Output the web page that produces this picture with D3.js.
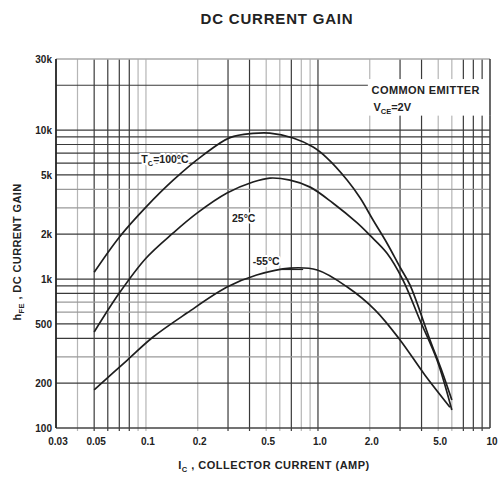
<!DOCTYPE html>
<html>
<head>
<meta charset="utf-8">
<script src="https://cdn.jsdelivr.net/npm/d3@7"></script>
<style>
  body { margin: 0; background: #fff; }
  text { font-family: "Liberation Sans", Arial, sans-serif; fill: #222; }
</style>
</head>
<body>
<svg id="chart" width="500" height="477"></svg>
<script>
/* DATA */
const xTicks = [0.03, 0.05, 0.1, 0.2, 0.5, 1, 2, 5, 10];
const xTickLabels = ["0.03", "0.05", "0.1", "0.2", "0.5", "1.0", "2.0", "5.0", "10"];
const yTicks = [100, 200, 500, 1000, 2000, 5000, 10000, 30000];
const yTickLabels = ["100", "200", "500", "1k", "2k", "5k", "10k", "30k"];

// grid lines (every minor step of the log paper)
const xGrid = [0.04, 0.05, 0.06, 0.07, 0.08, 0.09, 0.1, 0.2, 0.3, 0.4, 0.5, 0.6, 0.7, 0.8, 0.9, 1, 2, 3, 4, 5, 6, 7, 8, 9];
const xGridLight = [0.04, 0.09, 0.1, 0.2, 0.5, 0.6, 0.8, 0.9, 2, 5, 6];
const yGrid = [200, 300, 400, 500, 600, 700, 800, 900, 1000, 2000, 3000, 4000, 5000, 6000, 7000, 8000, 9000, 10000, 20000];
const yGridLight = [300, 600, 700, 3000, 4000];

// curves: Ic (A) vs hFE
const current100 = [0.05, 0.07, 0.1, 0.144, 0.215, 0.308, 0.419, 0.525, 0.717, 0.937, 1.13, 1.48, 1.76, 2.09, 2.52, 3.0, 3.43, 4.48, 5.3, 6.0];
const gain100 = [1110, 1910, 3040, 4610, 6790, 8900, 9500, 9550, 8840, 7690, 6490, 4610, 3500, 2490, 1740, 1200, 910, 390, 234, 154];
const current25 = [0.05, 0.07, 0.1, 0.144, 0.198, 0.296, 0.419, 0.525, 0.688, 0.9, 1.22, 1.69, 2.0, 2.52, 3.12, 3.91, 4.92, 6.0];
const gain25 = [441, 805, 1380, 2040, 2770, 3780, 4480, 4760, 4610, 4140, 3240, 2380, 1970, 1490, 984, 531, 286, 132];
const currentM55 = [0.05, 0.078, 0.11, 0.173, 0.296, 0.44, 0.688, 0.99, 1.48, 2.15, 3.0, 4.18, 5.85];
const gainM55 = [180, 286, 408, 591, 884, 1064, 1185, 1149, 884, 619, 390, 227, 138];

const curveNames = ["100", "25", "-55"];

/* SCALES */
const svg = d3.select("#chart");
const x = d3.scaleLog().domain([0.03, 10]).range([56, 490]);
const y = d3.scaleLog().domain([100, 30000]).range([428, 59]);

// grid
svg.append("g").selectAll("line")
  .data(xGrid)
  .join("line")
  .attr("x1", d => x(d)).attr("x2", d => x(d))
  .attr("y1", y(30000)).attr("y2", y(100) + 3)
  .attr("stroke", d => xGridLight.includes(d) ? "#b5b5b5" : "#3a3a3a")
  .attr("stroke-width", 1.2);

svg.append("g").selectAll("line")
  .data(yGrid)
  .join("line")
  .attr("x1", x(0.03)).attr("x2", x(10))
  .attr("y1", d => y(d)).attr("y2", d => y(d))
  .attr("stroke", d => yGridLight.includes(d) ? "#9a9a9a" : "#3a3a3a")
  .attr("stroke-width", 1.2);

// frame
svg.append("line").attr("x1", x(0.03)).attr("x2", x(10)).attr("y1", y(30000)).attr("y2", y(30000))
  .attr("stroke", "#aaa").attr("stroke-width", 1.5);
svg.append("line").attr("x1", x(0.03)).attr("x2", x(10)).attr("y1", y(100)).attr("y2", y(100))
  .attr("stroke", "#444").attr("stroke-width", 1.6);
svg.append("line").attr("x1", x(0.03)).attr("x2", x(0.03)).attr("y1", y(30000)).attr("y2", y(100))
  .attr("stroke", "#222").attr("stroke-width", 1.8);
svg.append("line").attr("x1", x(10)).attr("x2", x(10)).attr("y1", y(30000)).attr("y2", y(100))
  .attr("stroke", "#444").attr("stroke-width", 1.6);

// legend box (white patch over the grid)
svg.append("rect")
  .attr("x", x(1.95)).attr("y", y(22000))
  .attr("width", x(10) - x(1.95) + 2).attr("height", y(12500) - y(22000))
  .attr("fill", "#fff");
svg.append("line").attr("x1", x(10)).attr("x2", x(10)).attr("y1", y(22000)).attr("y2", y(12500))
  .attr("stroke", "#444").attr("stroke-width", 1.6);

svg.append("text")
  .attr("x", x(2.05)).attr("y", y(17500))
  .attr("font-size", 11).attr("font-weight", "bold")
  .attr("letter-spacing", 0.4)
  .text("COMMON EMITTER");
const vce = svg.append("text")
  .attr("x", x(2.1)).attr("y", y(13400))
  .attr("font-size", 11).attr("font-weight", "bold");
vce.append("tspan").text("V");
vce.append("tspan").attr("dy", 3).attr("font-size", 7.5).text("CE");
vce.append("tspan").attr("dy", -3).text("=2V");

/* CURVES */
const series = [
  { name: curveNames[0], xs: current100, ys: gain100 },
  { name: curveNames[1], xs: current25, ys: gain25 },
  { name: curveNames[2], xs: currentM55, ys: gainM55 }
];
const line = d3.line()
  .x(d => x(d[0]))
  .y(d => y(d[1]))
  .curve(d3.curveCatmullRom.alpha(0.5));

svg.append("g").selectAll("path")
  .data(series)
  .join("path")
  .attr("d", s => line(s.xs.map((v, i) => [v, s.ys[i]])))
  .attr("fill", "none")
  .attr("stroke", "#1e1e1e")
  .attr("stroke-width", 1.7);

/* CURVE LABELS */
function halo(sel) {
  sel.attr("stroke", "#fff").attr("stroke-width", 4).attr("paint-order", "stroke");
}
const t100 = svg.append("text")
  .attr("x", x(0.129)).attr("y", y(6000))
  .attr("text-anchor", "middle")
  .attr("font-size", 10.5).attr("font-weight", "bold")
  .call(halo);
t100.append("tspan").text("T");
t100.append("tspan").attr("dy", 3).attr("font-size", 7.5).text("C");
t100.append("tspan").attr("dy", -3).text("=100°C");

svg.append("text")
  .attr("x", x(0.37)).attr("y", y(2400))
  .attr("text-anchor", "middle")
  .attr("font-size", 10.5).attr("font-weight", "bold")
  .call(halo)
  .text("25°C");

svg.append("text")
  .attr("x", x(0.5)).attr("y", y(1240))
  .attr("text-anchor", "middle")
  .attr("font-size", 10.5).attr("font-weight", "bold")
  .call(halo)
  .text("-55°C");
svg.append("line")
  .attr("x1", x(0.6)).attr("x2", x(0.82))
  .attr("y1", y(1160)).attr("y2", y(1160))
  .attr("stroke", "#222").attr("stroke-width", 1.3);

/* AXIS LABELS */
svg.append("g").selectAll("text")
  .data(xTicks)
  .join("text")
  .attr("x", d => x(d) + 2)
  .attr("y", y(100) + 17)
  .attr("text-anchor", "middle")
  .attr("font-size", 10).attr("font-weight", "bold")
  .text((d, i) => xTickLabels[i]);

svg.append("g").selectAll("text")
  .data(yTicks)
  .join("text")
  .attr("x", x(0.03) - 4)
  .attr("y", d => y(d) + 4)
  .attr("text-anchor", "end")
  .attr("font-size", 10).attr("font-weight", "bold")
  .text((d, i) => yTickLabels[i]);

// titles
svg.append("text")
  .attr("x", 277).attr("y", 24)
  .attr("text-anchor", "middle")
  .attr("font-size", 15).attr("font-weight", "bold")
  .attr("letter-spacing", 0.8)
  .text("DC CURRENT GAIN");

const xt = svg.append("text")
  .attr("x", 274).attr("y", 469)
  .attr("text-anchor", "middle")
  .attr("font-size", 11).attr("font-weight", "bold")
  .attr("letter-spacing", 0.5);
xt.append("tspan").text("I");
xt.append("tspan").attr("dy", 3).attr("font-size", 7.5).text("C");
xt.append("tspan").attr("dy", -3).text(" , COLLECTOR CURRENT (AMP)");

const yt = svg.append("text")
  .attr("transform", "translate(21,252) rotate(-90)")
  .attr("text-anchor", "middle")
  .attr("font-size", 11).attr("font-weight", "bold")
  .attr("letter-spacing", 0.4);
yt.append("tspan").text("h");
yt.append("tspan").attr("dy", 3).attr("font-size", 7.5).text("FE");
yt.append("tspan").attr("dy", -3).text(" , DC CURRENT GAIN");
</script>
</body>
</html>
